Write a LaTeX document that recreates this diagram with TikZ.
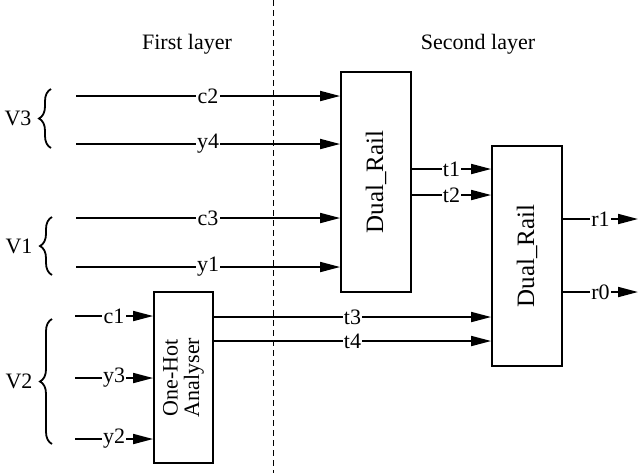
\documentclass[tikz,border=0pt]{standalone}
\usepackage{fontspec}
\setmainfont{Liberation Serif}
\usetikzlibrary{arrows.meta, positioning, decorations.pathreplacing}

\begin{document}
\begin{tikzpicture}[x=0.5pt, y=-0.5pt, font=\fontsize{11}{13}\selectfont,
  blockbox/.style={draw, line width=0.9pt, inner sep=0pt},
  sig/.style={-{Triangle[length=10pt, width=5pt]}, line width=0.9pt},
  lab/.style={fill=white, inner sep=0.6pt},
  grp/.style={decorate, decoration={brace, amplitude=6pt}, line width=0.9pt}]
  \useasboundingbox (0,0) rectangle (640,473);

  % layer separation
  \draw[dash pattern=on 3pt off 2pt, line width=0.5pt] (273,0) -- (273,473);
  \node (first) at (187,44) {First layer};
  \node (second) at (478,44) {Second layer};

  % blocks
  \node[blockbox, minimum width=35pt, minimum height=110pt, font=\fontsize{12.5}{14}\selectfont] (dr1) at (376,182) {\rotatebox{90}{Dual\_Rail}};
  \node[blockbox, minimum width=35pt, minimum height=110pt, font=\fontsize{12.5}{14}\selectfont] (dr2) at (527,256) {\rotatebox{90}{Dual\_Rail}};
  \node[blockbox, minimum width=29.5pt, minimum height=85.5pt] (oh) at (183.5,377.5)
    {\rotatebox{90}{\shortstack{One-Hot\\Analyser}}};

  % inputs of the first Dual_Rail
  \foreach \name/\yy in {c2/96, y4/144, c3/218, y1/267} {
    \coordinate (in\name) at (76,\yy);
    \draw[sig] (in\name) -- node[lab] {\name} (dr1.west |- in\name);
  }

  % inputs of the analyser
  \foreach \name/\yy in {c1/316, y3/378, y2/439} {
    \coordinate (in\name) at (75,\yy);
    \draw[sig] (in\name) -- node[lab] {\name} (oh.west |- in\name);
  }

  % into the second Dual_Rail
  \foreach \name/\yy in {t1/169, t2/195} {
    \draw[sig] (dr1.east |- 0,\yy) -- node[lab] {\name} (dr2.west |- 0,\yy);
  }
  \foreach \name/\yy in {t3/317, t4/341} {
    \draw[sig] (oh.east |- 0,\yy) -- node[lab] {\name} (dr2.west |- 0,\yy);
  }

  % outputs
  \foreach \name/\yy in {r1/219, r0/292} {
    \coordinate (out\name) at (638,\yy);
    \draw[sig] (dr2.east |- out\name) -- node[lab] {\name} (out\name);
  }

  % groups
  \draw[grp] (51,148) -- node[left=6pt] (v3) {V3} (51,89);
  \draw[grp] (52,275) -- node[left=6pt] (v1) {V1} (52,217);
  \draw[grp] (52,444) -- node[left=6pt] (v2) {V2} (52,319);
\end{tikzpicture}
\end{document}
